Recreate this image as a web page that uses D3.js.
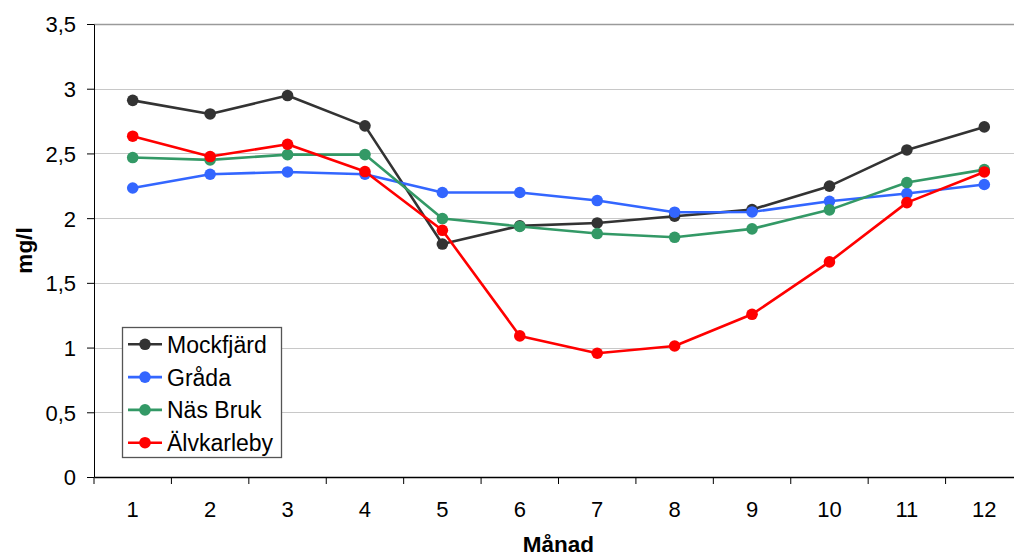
<!DOCTYPE html>
<html><head><meta charset="utf-8">
<script src="https://cdn.jsdelivr.net/npm/d3@7"></script>
<style>
html,body{margin:0;padding:0;background:#fff;overflow:hidden}
text{font-family:"Liberation Sans",Arial,sans-serif}
</style></head>
<body><svg id="c" width="1014" height="558"></svg>
<script>
const months = [1,2,3,4,5,6,7,8,9,10,11,12];
const yTicks = [0,0.5,1,1.5,2,2.5,3,3.5];
const seriesNames = ["Mockfjärd","Gråda","Näs Bruk","Älvkarleby"];
const mockfjard = [2.91,2.805,2.947,2.713,1.80,1.94,1.963,2.015,2.066,2.247,2.527,2.705];
const grada     = [2.233,2.339,2.357,2.339,2.198,2.198,2.136,2.046,2.048,2.13,2.19,2.26];
const nasBruk   = [2.468,2.45,2.491,2.491,1.997,1.936,1.881,1.852,1.917,2.064,2.275,2.375];
const alvkarleby= [2.633,2.476,2.571,2.36,1.906,1.09,0.956,1.012,1.257,1.662,2.12,2.357];
const colors = ["#333333","#3366ff","#339966","#ff0000"];

const svg = d3.select("#c");
const L=94, R=1023, T=24, B=477;
const x = d3.scaleBand().domain(months).range([L,R]);
const y = d3.scaleLinear().domain([0,3.5]).range([B,T]);
const FF = "Liberation Sans, Arial, sans-serif";

// gridlines
svg.append("g").selectAll("line").data(yTicks.filter(d=>d>0)).join("line")
  .attr("x1",L).attr("x2",R).attr("y1",d=>Math.round(y(d))+0.5).attr("y2",d=>Math.round(y(d))+0.5)
  .attr("stroke",d=>d===3.5?"#9a9a9a":"#c8c8c8").attr("stroke-width",d=>d===3.5?1.5:1);

// y axis
const ya = svg.append("g").attr("transform",`translate(${L},0)`)
  .call(d3.axisLeft(y).tickValues(yTicks).tickSize(7).tickSizeOuter(0)
    .tickFormat(d=>String(d).replace(".",",")));
ya.select(".domain").attr("stroke","#000");
ya.selectAll(".tick line").attr("stroke","#000");
ya.selectAll("text").attr("font-size",22).attr("fill","#000").attr("x",-18).attr("dy","0.36em")
  .attr("font-family",FF);

// x axis
const xa = svg.append("g").attr("transform",`translate(0,${B})`)
  .call(d3.axisBottom(x).tickSize(0).tickSizeOuter(0));
xa.select(".domain").attr("stroke","#000").attr("stroke-width",1.3);
xa.selectAll(".tick text").attr("font-size",22).attr("fill","#000").attr("y",40).attr("dy",0)
  .attr("font-family",FF);
// category boundary ticks
svg.append("g").selectAll("line").data(months).join("line")
  .attr("x1",d=>x(d)).attr("x2",d=>x(d)).attr("y1",B).attr("y2",B+7)
  .attr("stroke","#000");

// lines
const allSeries = [mockfjard,grada,nasBruk,alvkarleby];
const line = d3.line().x((d,i)=>x(months[i])+x.bandwidth()/2).y(d=>y(d));
allSeries.forEach((s,k)=>{
  const g = svg.append("g");
  g.append("path").datum(s).attr("d",line).attr("fill","none")
    .attr("stroke",colors[k]).attr("stroke-width",2.6).attr("stroke-linejoin","round");
  g.selectAll("circle").data(s).join("circle")
    .attr("cx",(d,i)=>x(months[i])+x.bandwidth()/2).attr("cy",d=>y(d)).attr("r",5.8)
    .attr("fill",colors[k]);
});

// axis titles
svg.append("text").attr("x",(L+R)/2).attr("y",552).attr("text-anchor","middle")
  .attr("font-size",22.5).attr("font-weight","bold").text("Månad");
svg.append("text").attr("transform",`translate(32,${(T+B)/2}) rotate(-90)`)
  .attr("text-anchor","middle").attr("font-size",22.5).attr("font-weight","bold").text("mg/l");

// legend
const lg = svg.append("g");
lg.append("rect").attr("x",122.5).attr("y",327.5).attr("width",159).attr("height",130)
  .attr("fill","#fff").attr("stroke","#555").attr("stroke-width",1.3);
seriesNames.forEach((n,k)=>{
  const yy = 344.3 + k*32.8;
  lg.append("line").attr("x1",128).attr("x2",162).attr("y1",yy).attr("y2",yy)
    .attr("stroke",colors[k]).attr("stroke-width",2.6);
  lg.append("circle").attr("cx",145).attr("cy",yy).attr("r",5.8).attr("fill",colors[k]);
  lg.append("text").attr("x",167).attr("y",yy+8.4).attr("font-size",23).text(n);
});
</script></body></html>
